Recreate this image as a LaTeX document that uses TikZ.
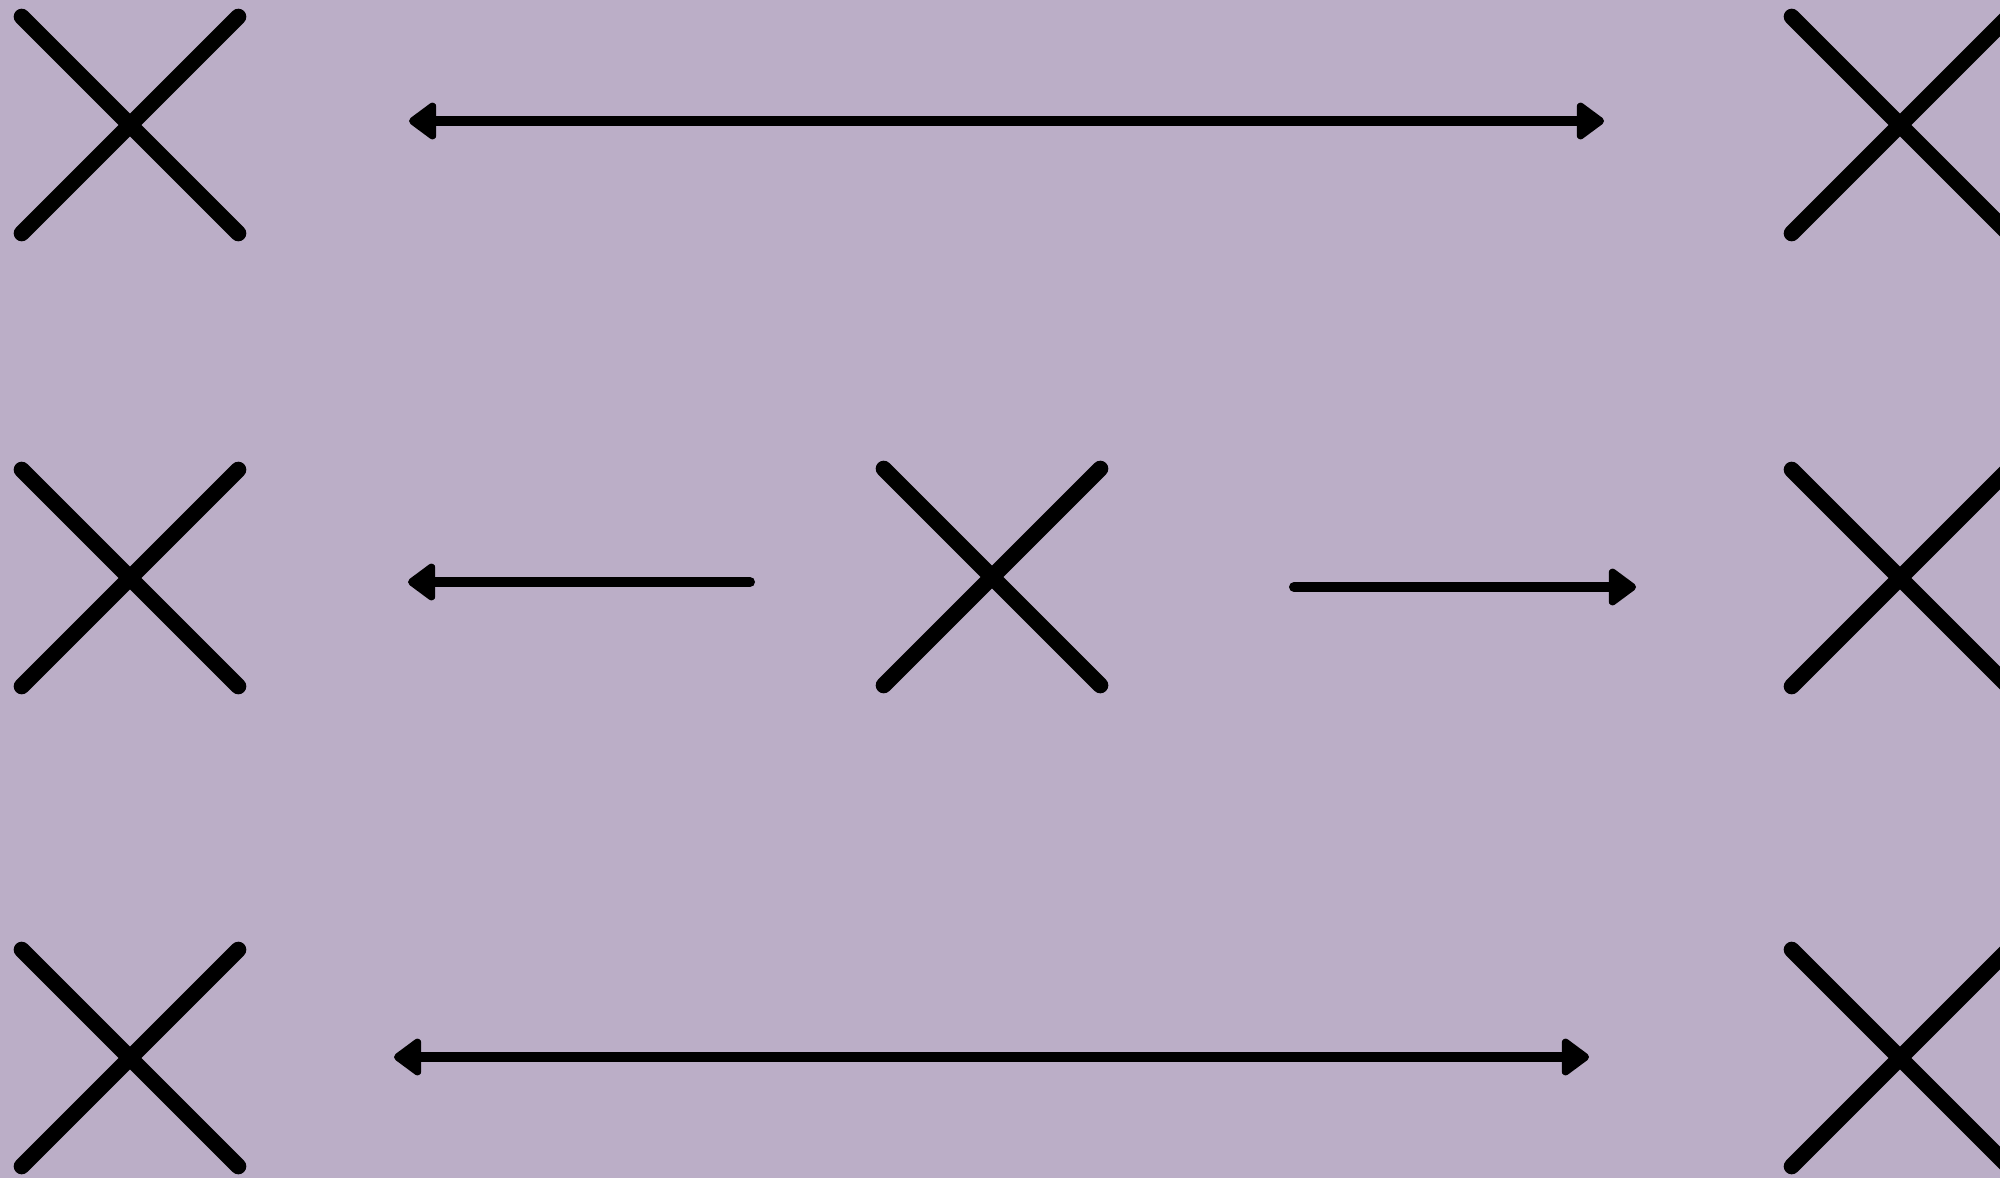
\documentclass[tikz,border=0pt]{standalone}
\usetikzlibrary{arrows.meta,shapes.misc}
\definecolor{bgc}{RGB}{187,174,199}
\tikzset{
  xmark/.style={cross out, draw=black, line width=0.16cm, line cap=round, minimum size=2.165cm, inner sep=0pt, outer sep=0pt},
  tipA/.tip={Triangle[length=0.30cm, width=0.42cm, round]},
  arr/.style={draw=black, line width=0.1cm, line cap=round, arrows={-tipA}},
  darr/.style={draw=black, line width=0.1cm, arrows={tipA-tipA}}
}
\begin{document}
\begin{tikzpicture}[x=0.01cm, y=-0.01cm]
\fill[bgc] (0,0) rectangle (2000,1178);
\useasboundingbox (0,0) rectangle (2000,1178);
% crosses
\node[xmark] (tl) at (130,125) {};
\node[xmark] (ml) at (130,578) {};
\node[xmark] (bl) at (130,1058) {};
\node[xmark] (mc) at (992,577) {};
\node[xmark] (tr) at (1900,125) {};
\node[xmark] (mr) at (1900,578) {};
\node[xmark] (br) at (1900,1058) {};
% arrow end points
\coordinate (a1l) at (409,121);
\coordinate (a1r) at (1604,121);
\coordinate (a2t) at (408,582);
\coordinate (a2s) at (750,582);
\coordinate (a3s) at (1294,587);
\coordinate (a3t) at (1636,587);
\coordinate (a4l) at (394,1057);
\coordinate (a4r) at (1589,1057);
% arrows
\draw[darr] (a1l) -- (a1r);
\draw[arr] (a2s) -- (a2t);
\draw[arr] (a3s) -- (a3t);
\draw[darr] (a4l) -- (a4r);
\end{tikzpicture}
\end{document}
